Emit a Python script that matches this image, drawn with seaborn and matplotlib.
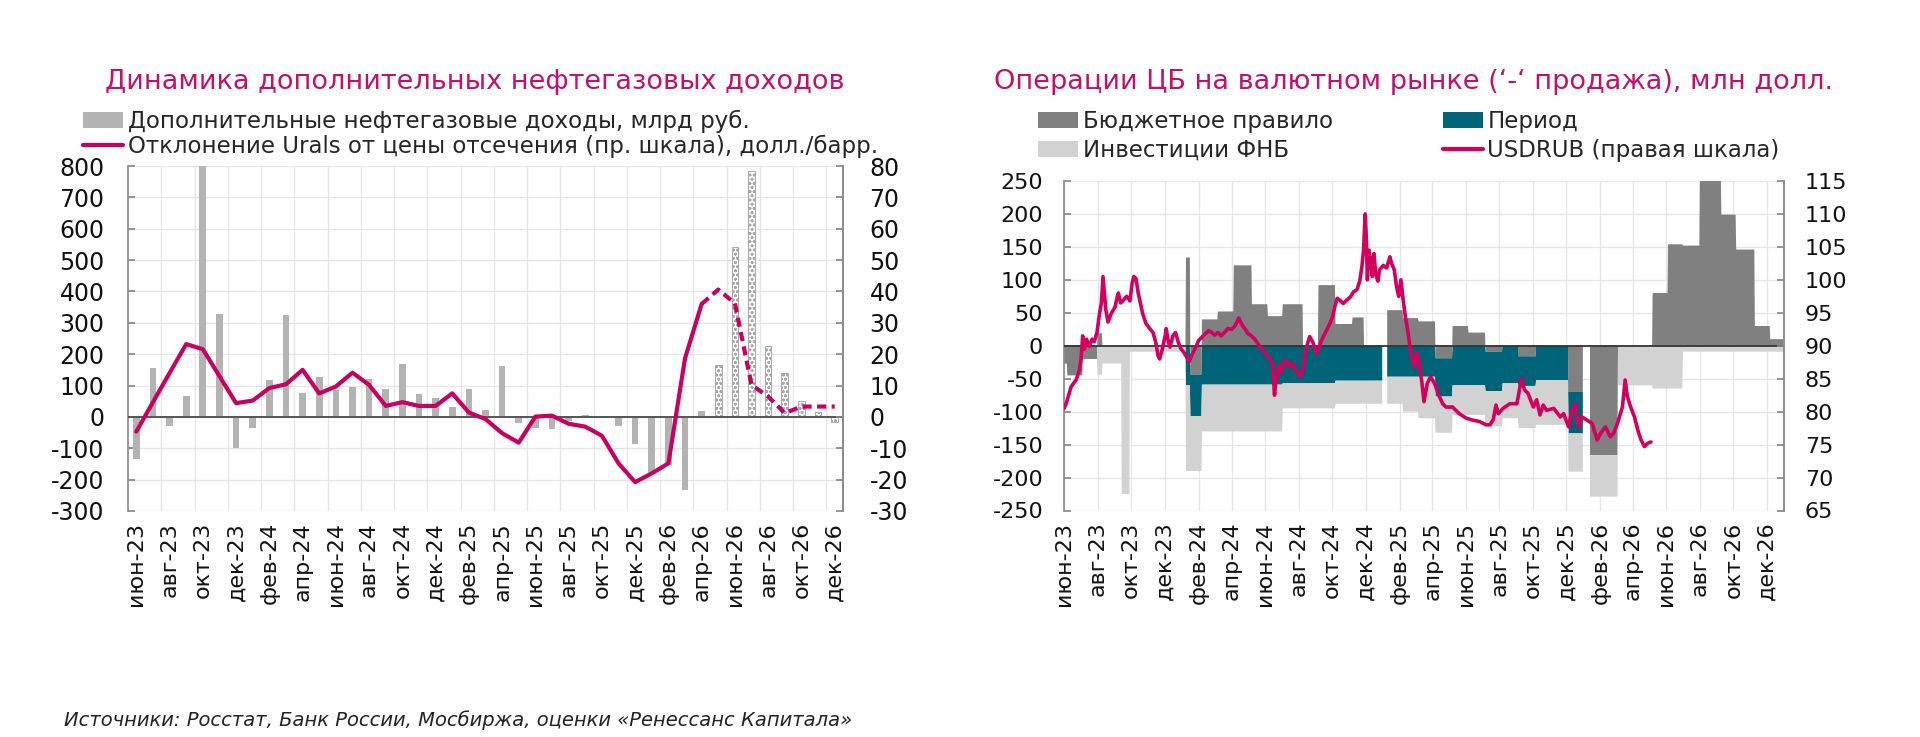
import numpy as np
import pandas as pd
import matplotlib
matplotlib.use('Agg')
import matplotlib.pyplot as plt
from matplotlib.patches import Patch
from matplotlib.lines import Line2D
import seaborn as sns

sns.set_theme(style='white')
plt.rcParams['font.family'] = ['DejaVu Sans']
plt.rcParams['axes.unicode_minus'] = False
plt.rcParams['hatch.color'] = '#a3a3a3'
plt.rcParams['hatch.linewidth'] = 0.8

MAGENTA = '#c8005f'
TITLE_C = '#c4106a'

RU_MONTHS = ['янв', 'фев', 'мар', 'апр', 'май', 'июн', 'июл', 'авг', 'сен', 'окт', 'ноя', 'дек']
months = pd.date_range('2023-06-01', '2026-12-01', freq='MS')
month_labels = [f"{RU_MONTHS[d.month - 1]}-{d.year % 100}" for d in months]

# ---- left chart: доп. нефтегазовые доходы (млрд руб.) и отклонение Urals (долл./барр.)
extra_income = [-135, 157, -29, 68, 800, 328, -98, -36, 118, 325, 77, 126, 86, 94, 120,
                90, 170, 74, 59, 31, 90, 22, 162, -20, -34, -39, -12, 6, 4, -29, -87,
                -178, -152, -233, 20, 166, 542, 784, 227, 141, 52, 16, -15]
urals_gap = [-4.7, 4.7, 14, 23.2, 21.6, 13, 4.4, 5.2, 9.2, 10.4, 15, 7.5, 9.7, 14.1, 10.2,
             3.5, 4.7, 3.5, 3.5, 7.5, 1.4, -0.7, -5.2, -8.2, 0.1, 0.4, -2.2, -3.1, -6,
             -14.8, -20.8, -18, -14.8, 18.7, 36, 40.6, 36.2, 10.2, 6.5, 1.2, 3.3, 3.3, 3.3]
first_forecast_bar = 35
first_forecast_line = 34

# ---- right chart: операции ЦБ (млн долл. в день), ступени по датам
br_dates = ['2023-06-01', '2023-06-07', '2023-07-05', '2023-08-01', '2023-08-10', '2024-01-09',
            '2024-01-17', '2024-02-07', '2024-03-07', '2024-04-05', '2024-05-08', '2024-06-06',
            '2024-07-03', '2024-08-09', '2024-09-06', '2024-10-07', '2024-11-07', '2024-11-28',
            '2025-01-01', '2025-01-09', '2025-02-07', '2025-03-07', '2025-04-07', '2025-05-08',
            '2025-06-06', '2025-07-07', '2025-08-07', '2025-09-05', '2025-10-07', '2025-12-05',
            '2026-01-01', '2026-01-13', '2026-03-05', '2026-05-07', '2026-06-04', '2026-07-01',
            '2026-08-01', '2026-09-09', '2026-10-06', '2026-11-09', '2026-12-07']
br_vals = [-27, -45, -20, 19, 0, 134, -44, 40, 52, 122, 63, 45, 63, 0, 92, 33, 43, 0,
           np.nan, 54, 42, 37, -19, 30, 20, -9, 0, -16, 0, -70,
           np.nan, -166, 0, 80, 154, 152, 262, 199, 146, 30, 10]

period_dates = ['2023-06-01', '2024-01-09', '2024-01-17', '2024-02-07', '2024-07-03', '2024-10-07',
                '2025-01-01', '2025-01-09', '2025-04-07', '2025-05-08', '2025-07-07', '2025-08-07',
                '2025-09-05', '2025-10-07', '2025-12-05', '2026-01-01', '2026-01-13']
period_vals = [0, -60, -63, -59, -57, -53, np.nan, -47, -58, -60, -60, -57, -45, -52, -63,
               np.nan, 0]

fnb_dates = ['2023-06-01', '2023-08-01', '2023-08-10', '2023-09-14', '2023-09-29', '2024-01-09',
             '2024-01-17', '2024-02-07', '2024-07-03', '2024-10-07', '2025-01-01', '2025-01-09',
             '2025-02-07', '2025-03-07', '2025-04-07', '2025-05-08', '2025-07-07', '2025-08-07',
             '2025-09-05', '2025-10-07', '2025-12-05', '2026-01-01', '2026-01-13', '2026-03-05',
             '2026-05-07', '2026-07-01']
fnb_vals = [0, -44, -27, -225, -9, -130, -83, -71, -38, -35, np.nan, -41, -53, -63, -55, -45,
            -53, -53, -64, -68, -58, np.nan, -63, -60, -65, -9]

usd_dates = ['2023-06-01', '2023-06-05', '2023-06-14', '2023-06-23', '2023-06-29', '2023-07-02',
             '2023-07-05', '2023-07-08', '2023-07-12', '2023-07-17', '2023-07-22', '2023-07-26',
             '2023-07-31', '2023-08-04', '2023-08-08', '2023-08-11', '2023-08-13', '2023-08-16',
             '2023-08-20', '2023-08-26', '2023-09-02', '2023-09-06', '2023-09-08', '2023-09-12',
             '2023-09-17', '2023-09-23', '2023-09-29', '2023-10-03', '2023-10-06', '2023-10-10',
             '2023-10-14', '2023-10-18', '2023-10-22', '2023-10-28', '2023-11-04', '2023-11-10',
             '2023-11-15', '2023-11-19', '2023-11-22', '2023-11-27', '2023-12-02', '2023-12-04',
             '2023-12-08', '2023-12-11', '2023-12-16', '2023-12-21', '2023-12-26', '2023-12-31',
             '2024-01-05', '2024-01-10', '2024-01-15', '2024-01-19', '2024-01-25', '2024-02-01',
             '2024-02-07', '2024-02-13', '2024-02-19', '2024-02-25', '2024-03-01', '2024-03-07',
             '2024-03-13', '2024-03-19', '2024-03-25', '2024-04-01', '2024-04-07', '2024-04-14',
             '2024-04-19', '2024-04-25', '2024-05-01', '2024-05-07', '2024-05-13', '2024-05-19',
             '2024-05-25', '2024-06-01', '2024-06-07', '2024-06-13', '2024-06-15', '2024-06-18',
             '2024-06-21', '2024-06-26', '2024-06-30', '2024-07-04', '2024-07-09', '2024-07-15',
             '2024-07-21', '2024-07-27', '2024-08-03', '2024-08-08', '2024-08-12', '2024-08-16',
             '2024-08-21', '2024-08-27', '2024-09-02', '2024-09-06', '2024-09-10', '2024-09-15',
             '2024-09-21', '2024-09-27', '2024-10-02', '2024-10-06', '2024-10-10', '2024-10-15',
             '2024-10-21', '2024-10-27', '2024-11-03', '2024-11-09', '2024-11-15', '2024-11-20',
             '2024-11-24', '2024-11-27', '2024-11-30', '2024-12-02', '2024-12-04', '2024-12-07',
             '2024-12-10', '2024-12-13', '2024-12-16', '2024-12-19', '2024-12-23', '2024-12-26',
             '2025-01-02', '2025-01-08', '2025-01-14', '2025-01-17', '2025-01-22', '2025-01-26',
             '2025-01-30', '2025-02-03', '2025-02-07', '2025-02-11', '2025-02-15', '2025-02-20',
             '2025-02-25', '2025-02-28', '2025-03-04', '2025-03-09', '2025-03-13', '2025-03-17',
             '2025-03-23', '2025-03-29', '2025-04-05', '2025-04-14', '2025-04-20', '2025-04-26',
             '2025-05-08', '2025-05-20', '2025-06-02', '2025-06-14', '2025-06-26', '2025-07-08',
             '2025-07-15', '2025-07-21', '2025-07-26', '2025-07-30', '2025-08-08', '2025-08-20',
             '2025-09-02', '2025-09-06', '2025-09-10', '2025-09-16', '2025-09-22', '2025-10-02',
             '2025-10-08', '2025-10-14', '2025-10-20', '2025-10-26', '2025-11-08', '2025-11-20',
             '2025-11-26', '2025-12-05', '2025-12-11', '2025-12-17', '2025-12-23', '2025-12-29',
             '2026-01-08', '2026-01-17', '2026-01-26', '2026-02-01', '2026-02-10', '2026-02-19',
             '2026-02-25', '2026-03-04', '2026-03-13', '2026-03-18', '2026-03-22', '2026-03-28',
             '2026-04-04', '2026-04-10', '2026-04-16', '2026-04-22', '2026-04-28', '2026-05-04']
usd_rate = [80.5, 81.2, 83.8, 84.8, 86.3, 88.0, 91.5, 89.5, 91.0, 89.9, 91.0, 90.6,
            92.0, 94.5, 96.5, 100.5, 98.5, 95.5, 93.6, 94.9, 95.9, 97.5, 98.0, 96.5,
            96.9, 97.5, 96.8, 99.5, 100.5, 100.2, 98.0, 96.5, 94.9, 93.4, 92.6, 92.0,
            90.5, 88.5, 88.0, 89.5, 91.5, 92.6, 90.5, 89.8, 91.5, 92.0, 90.5, 89.5,
            89.0, 88.3, 87.6, 88.5, 89.5, 90.8, 91.3, 91.8, 92.3, 92.0, 91.6, 92.0,
            91.5, 92.0, 92.6, 92.5, 93.0, 94.2, 93.3, 92.6, 91.8, 91.5, 91.0, 90.3,
            89.5, 89.0, 88.3, 87.5, 86.5, 82.5, 85.0, 87.0, 86.0, 87.5, 87.8, 86.8,
            87.3, 86.3, 85.3, 86.0, 88.5, 90.0, 91.4, 90.5, 88.8, 89.5, 90.5, 91.4,
            92.4, 93.4, 94.5, 96.0, 97.2, 96.9, 96.4, 96.9, 97.4, 98.2, 98.5, 99.8,
            102.0, 104.5, 110.0, 106.5, 100.0, 104.5, 103.0, 100.5, 104.0, 101.0, 99.8, 101.5,
            102.2, 101.8, 103.5, 102.5, 101.5, 99.0, 97.5, 100.0, 97.0, 94.5, 92.5, 89.5,
            87.5, 86.8, 89.0, 87.0, 84.5, 81.5, 84.3, 85.3, 84.3, 82.3, 81.2, 80.7,
            80.7, 79.7, 79.0, 78.7, 78.5, 78.0, 78.0, 78.8, 81.0, 79.7, 80.5, 81.2,
            81.2, 83.0, 85.0, 83.3, 82.8, 80.7, 81.8, 79.5, 81.0, 80.2, 80.5, 79.2,
            79.7, 77.7, 80.2, 81.2, 77.7, 79.2, 78.7, 78.2, 75.7, 76.7, 77.7, 76.2,
            76.7, 78.2, 80.7, 84.8, 82.3, 80.7, 79.2, 77.2, 75.7, 74.7, 75.2, 75.4]

days = pd.date_range('2023-06-01', '2026-12-31', freq='D')


def daily(starts, values):
    s = pd.Series(values, index=pd.to_datetime(starts), dtype=float)
    return s.reindex(days, method='ffill')


fig = plt.figure(figsize=(19.2, 7.37), dpi=100)
fig.patch.set_facecolor('white')

# ================= left chart =================
ax = fig.add_axes([128 / 1920, 1 - 511 / 737, 715 / 1920, 345 / 737])
idx = np.arange(len(extra_income))
sns.barplot(x=idx, y=extra_income, color='#b3b3b3', saturation=1, width=0.4,
            native_scale=True, linewidth=0, ax=ax, zorder=2)
for i, p in enumerate(ax.patches):
    if i >= first_forecast_bar:
        p.set_facecolor('white')
        p.set_edgecolor('#a8a8a8')
        p.set_hatch('oooo')
        p.set_linewidth(0.7)

ax.set_xlim(-0.5, len(idx) - 0.5)
ax.set_ylim(-300, 800)
ax.set_yticks(range(-300, 801, 100))
ax.set_xticks(idx[::2])
ax.set_xticklabels(month_labels[::2], rotation=90)
ax.set_xticks(np.arange(1.5, len(idx) - 1, 2), minor=True)
ax.grid(axis='y', color='#e6e6e6', lw=1, zorder=0)
ax.grid(axis='x', which='minor', color='#e6e6e6', lw=1, zorder=0)
ax.axhline(0, color='#555555', lw=1.4, zorder=3)
ax.set_xlabel('')
ax.set_ylabel('')
ax.tick_params(axis='x', which='both', length=0, labelsize=16, pad=8, colors='#111111')
ax.tick_params(axis='y', direction='in', length=5, labelsize=17, pad=17, colors='#111111')
ax.tick_params(axis='y', color='#888888')
for side in ['top', 'bottom']:
    ax.spines[side].set_visible(False)
for side in ['left', 'right']:
    ax.spines[side].set_color('#8c8c8c')

ax2 = ax.twinx()
sns.lineplot(x=idx[:first_forecast_line + 1], y=urals_gap[:first_forecast_line + 1], ax=ax2,
             color=MAGENTA, linewidth=3)
sns.lineplot(x=idx[first_forecast_line:], y=urals_gap[first_forecast_line:], ax=ax2,
             color=MAGENTA, linewidth=3, linestyle=(0, (2.2, 1.3)))
ax2.set_ylim(-30, 80)
ax2.set_yticks(range(-30, 81, 10))
ax2.set_ylabel('')
ax2.tick_params(axis='y', direction='in', length=5, labelsize=17, pad=19, colors='#111111')
ax2.tick_params(axis='y', color='#888888')
for side in ['top', 'bottom', 'left']:
    ax2.spines[side].set_visible(False)
ax2.spines['right'].set_color('#8c8c8c')
ax2.set_xlim(-0.5, len(idx) - 0.5)

fig.text(475 / 1920, 1 - 82 / 737, 'Динамика дополнительных нефтегазовых доходов',
         color=TITLE_C, fontsize=19.5, ha='center', va='center')
fig.legend(handles=[Patch(facecolor='#b3b3b3', edgecolor='none'),
                    Line2D([], [], color=MAGENTA, lw=3)],
           labels=['Дополнительные нефтегазовые доходы, млрд руб.',
                   'Отклонение Urals от цены отсечения (пр. шкала), долл./барр.'],
           loc='upper left', bbox_to_anchor=(83 / 1920, 1 - 110 / 737), frameon=False,
           fontsize=16.5, handlelength=1.75, handleheight=0.7, handletextpad=0.2,
           labelspacing=0.05, borderpad=0, borderaxespad=0)

# ================= right chart =================
br = daily(br_dates, br_vals)
period = daily(period_dates, period_vals)
fnb = daily(fnb_dates, fnb_vals)
neg_base = br.clip(upper=0)
period_bottom = neg_base + period
fnb_bottom = period_bottom + fnb

bx = fig.add_axes([1064 / 1920, 1 - 510.5 / 737, 720 / 1920, 329.5 / 737])
bx.fill_between(days, 0, br, color='#808080', lw=0, zorder=2)
bx.fill_between(days, neg_base, period_bottom, color='#006478', lw=0, zorder=2)
bx.fill_between(days, period_bottom, fnb_bottom, color='#d2d2d2', lw=0, zorder=2)
bx.axhline(0, color='#333333', lw=1.3, zorder=3)

date_ticks = pd.date_range('2023-06-01', '2026-12-01', freq='2MS')
bx.set_xlim(pd.Timestamp('2023-06-01'), pd.Timestamp('2027-01-01'))
bx.set_ylim(-250, 250)
bx.set_yticks(range(-250, 251, 50))
bx.set_xticks(date_ticks)
bx.set_xticklabels(month_labels[::2], rotation=90)
bx.grid(axis='both', color='#e6e6e6', lw=1, zorder=0)
bx.tick_params(axis='x', length=0, labelsize=16, pad=8, colors='#111111')
bx.tick_params(axis='y', direction='in', length=5, labelsize=16, pad=15, colors='#111111')
bx.tick_params(axis='y', color='#888888')
for side in ['top', 'bottom']:
    bx.spines[side].set_visible(False)
for side in ['left', 'right']:
    bx.spines[side].set_color('#8c8c8c')

bx2 = bx.twinx()
sns.lineplot(x=pd.to_datetime(usd_dates), y=usd_rate, ax=bx2, color='#d4005e', linewidth=2.6)
bx2.set_ylim(65, 115)
bx2.set_yticks(range(65, 116, 5))
bx2.set_ylabel('')
bx2.tick_params(axis='y', direction='in', length=5, labelsize=16, pad=15, colors='#111111')
bx2.tick_params(axis='y', color='#888888')
for side in ['top', 'bottom', 'left']:
    bx2.spines[side].set_visible(False)
bx2.spines['right'].set_color('#8c8c8c')
bx2.set_xlim(pd.Timestamp('2023-06-01'), pd.Timestamp('2027-01-01'))

fig.text(1414 / 1920, 1 - 82 / 737,
         'Операции ЦБ на валютном рынке (‘-‘ продажа), млн долл.',
         color=TITLE_C, fontsize=19.5, ha='center', va='center')
fig.legend(handles=[Patch(facecolor='#808080', edgecolor='none'),
                    Patch(facecolor='#d2d2d2', edgecolor='none'),
                    Patch(facecolor='#006478', edgecolor='none'),
                    Line2D([], [], color='#d4005e', lw=3)],
           labels=['Бюджетное правило', 'Инвестиции ФНБ', 'Период', 'USDRUB (правая шкала)'],
           ncol=2, loc='upper left', bbox_to_anchor=(1038 / 1920, 1 - 110 / 737),
           frameon=False, fontsize=16.5, handlelength=1.75, handleheight=0.7,
           handletextpad=0.2, labelspacing=0.25, columnspacing=4.8, borderpad=0,
           borderaxespad=0)

fig.text(64 / 1920, 1 - 720 / 737,
         'Источники: Росстат, Банк России, Мосбиржа, оценки «Ренессанс Капитала»',
         fontsize=14, style='italic', color='#222222', va='center')

fig.savefig('out.png', dpi=100, facecolor='white')
